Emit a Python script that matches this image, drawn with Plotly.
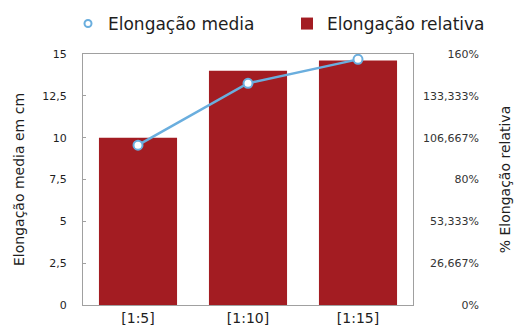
import plotly.graph_objects as go

categories = ["[1:5]", "[1:10]", "[1:15]"]
media_cm = [9.55, 13.25, 14.68]          # Elongação media (cm)
relativa_pct = [106.667, 149.3, 155.8]   # Elongação relativa (%)

left_ticks = [0, 2.5, 5, 7.5, 10, 12.5, 15]
left_text = ["0", "2,5", "5", "7,5", "10", "12,5", "15"]
right_ticks = [0, 26.667, 53.333, 80, 106.667, 133.333, 160]
right_text = ["0%", "26,667%", "53,333%", "80%", "106,667%", "133,333%", "160%"]

BLUE = "#6aaede"
RED = "#a31c22"
GREY = "#a0a0a0"
FONT = "DejaVu Sans, Verdana, sans-serif"
TXT = "#1e1e1e"

# right-align the right-hand tick labels with figure / punctuation spaces
FIG_SP, PUNC_SP = "\u2007", "\u2008"


def pad_right_label(s, widest="106,667%"):
    digits = lambda t: sum(c.isdigit() for c in t)
    commas = lambda t: t.count(",")
    return FIG_SP * (digits(widest) - digits(s)) + PUNC_SP * (commas(widest) - commas(s)) + s


right_text_padded = [pad_right_label(t) for t in right_text]

W, H = 521, 325
ML, MR, MT, MB = 83, 108, 54, 20
PW = W - ML - MR
PH = H - MT - MB


def px_x(px):
    return (px - ML) / PW


def px_y(py):
    return (H - MB - py) / PH


fig = go.Figure()

# bars on the percentage axis (drawn underneath)
fig.add_trace(go.Bar(
    x=categories, y=relativa_pct, name="Elongação relativa",
    marker=dict(color=RED, line=dict(width=0)),
    yaxis="y", legend="legend2",
))

# line on the cm axis (overlay, drawn on top)
fig.add_trace(go.Scatter(
    x=categories, y=media_cm, name="Elongação media",
    mode="lines+markers",
    line=dict(color=BLUE, width=2.5),
    marker=dict(symbol="circle", size=9, color="white",
                line=dict(color=BLUE, width=2)),
    yaxis="y2", showlegend=False,
))

# legend entry shows the marker only
fig.add_trace(go.Scatter(
    x=[None], y=[None], name="Elongação media", mode="markers",
    marker=dict(symbol="circle", size=7, color="white",
                line=dict(color=BLUE, width=2)),
    yaxis="y2", legend="legend",
))

legend_common = dict(orientation="h", xanchor="left", yanchor="middle",
                     font=dict(size=17, color=TXT), bgcolor="rgba(0,0,0,0)")

fig.update_layout(
    width=W, height=H,
    margin=dict(l=ML, r=MR, t=MT, b=MB, autoexpand=False),
    paper_bgcolor="white", plot_bgcolor="white",
    font=dict(family=FONT, size=10, color=TXT),
    bargap=0.29,
    showlegend=True,
    legend=dict(x=px_x(68), y=px_y(24), **legend_common),
    legend2=dict(x=px_x(287), y=px_y(24), **legend_common),
    xaxis=dict(
        showline=True, linecolor=GREY, linewidth=1, mirror=True,
        tickfont=dict(size=14), ticks="", showgrid=False, automargin=False,
    ),
    yaxis=dict(
        range=[0, 160], tickvals=right_ticks, ticktext=right_text_padded,
        side="right", showline=False, automargin=False,
        ticks="", showgrid=False, zeroline=False, ticklabelstandoff=9,
        tickfont=dict(size=11, color="#333333"),
        title=dict(text="% Elongação relativa", font=dict(size=14), standoff=22),
    ),
    yaxis2=dict(
        range=[0, 15], tickvals=left_ticks, ticktext=left_text,
        overlaying="y", side="left", anchor="x", automargin=False,
        showline=True, linecolor=GREY, linewidth=1, mirror=True,
        ticks="inside", ticklen=3, tickcolor=GREY, showgrid=False, zeroline=False,
        tickfont=dict(size=11), ticklabelstandoff=13,
        title=dict(text="Elongação media em cm", font=dict(size=14), standoff=14),
    ),
)

fig.write_html("out.html")
